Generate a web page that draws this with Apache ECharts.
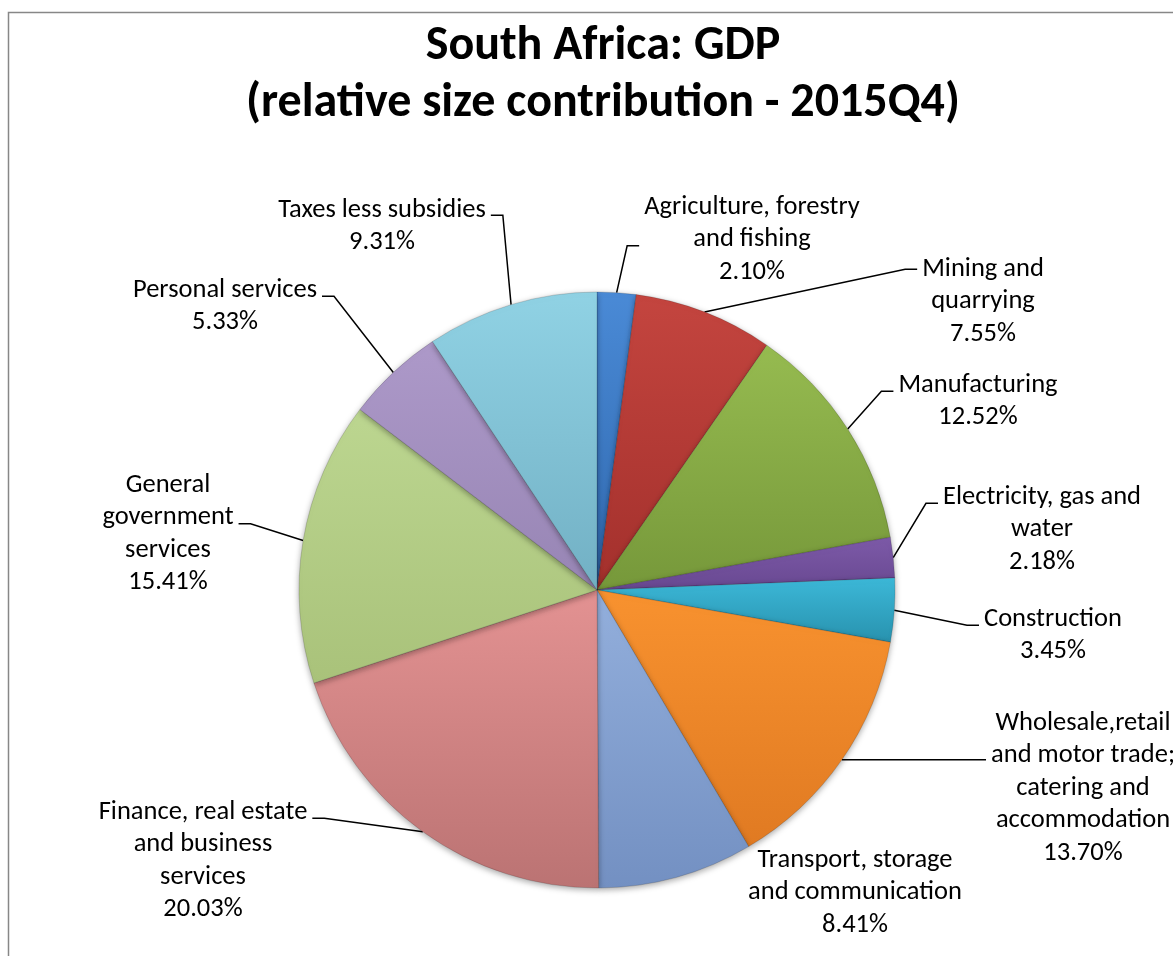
<!DOCTYPE html>
<html><head><meta charset="utf-8">
<script src="https://cdn.jsdelivr.net/npm/echarts@6/dist/echarts.min.js"></script>
<style>html,body{margin:0;padding:0;background:#fff}#c{width:1173px;height:956px}</style>
</head><body><div id="c"></div>
<script>
const titleText = 'South Africa: GDP\n(relative size contribution - 2015Q4)';
const categories = [
  'Agriculture, forestry\nand fishing',
  'Mining and\nquarrying',
  'Manufacturing',
  'Electricity, gas and\nwater',
  'Construction',
  'Wholesale,retail\nand motor trade;\ncatering and\naccommodation',
  'Transport, storage\nand communication',
  'Finance, real estate\nand business\nservices',
  'General\ngovernment\nservices',
  'Personal services',
  'Taxes less subsidies'
];
const shares = [2.10, 7.55, 12.52, 2.18, 3.45, 13.70, 8.41, 20.03, 15.41, 5.33, 9.31];

// styles
const colorTop = ['#4a8ad6','#c4453f','#96bb50','#7d5aa8','#3cb8d8','#f8922f','#93afdc','#e39292','#bcd690','#ad99c9','#90d2e4'];
const colorBot = ['#2f68ae','#a3302c','#76983a','#684891','#2892ae','#e07a22','#7390c2','#bb7373','#a9c27a','#9785b4','#72b0c4'];
// label placement: [centerX, topY, attach side, attached line index, attach y offset]
const labelPlace = [
  [752, 191, 'left', 1, 6],
  [983, 253, 'left', 0, 0],
  [978, 369, 'left', 0, 6],
  [1042, 481, 'left', 0, 6],
  [1053, 603, 'left', 0, 6],
  [1083, 707, 'left', 1, 4],
  [855, 844, null, 0, 0],
  [203, 796, 'right', 0, 6],
  [168, 469, 'right', 1, 6],
  [225, 274, 'right', 0, 6],
  [382, 194, 'right', 0, 5]
];
const LH = 32.5;
const FONT = 'Carlito, Lato, "Open Sans", sans-serif';

const chart = echarts.init(document.getElementById('c'), null, {renderer: 'canvas'});
const data = categories.map((n, i) => ({
  name: n,
  value: shares[i],
  itemStyle: {
    color: new echarts.graphic.LinearGradient(0, 0, 0, 1, [
      {offset: 0, color: colorTop[i]}, {offset: 1, color: colorBot[i]}
    ])
  },
  labelLine: {show: labelPlace[i][2] !== null}
}));

chart.setOption({
  backgroundColor: '#fff',
  animation: false,
  graphic: [{
    type: 'rect', shape: {x: 8.5, y: 12.5, width: 1300, height: 1100},
    style: {fill: 'none', stroke: '#878787', lineWidth: 1.5}, z: -10, silent: true
  }],
  title: {
    text: titleText, left: 598, top: 13, textAlign: 'center',
    textStyle: {fontFamily: FONT, fontSize: 48, fontWeight: 'bold', lineHeight: 57, color: '#000'}
  },
  series: [{
    type: 'pie',
    center: [597, 590],
    radius: 298,
    startAngle: 90,
    clockwise: true,
    avoidLabelOverlap: false,
    data: data,
    itemStyle: {borderColor: 'rgba(0,0,0,0.25)', borderWidth: 0.6, shadowBlur: 6, shadowColor: 'rgba(0,0,0,0.35)', shadowOffsetY: 2},
    label: {
      show: true, position: 'outside', fontFamily: FONT, fontSize: 26.5, lineHeight: LH, color: '#000', align: 'center',
      formatter: p => p.name + '\n' + p.value.toFixed(2) + '%'
    },
    labelLine: {show: true, length: 10, length2: 10, lineStyle: {color: '#000', width: 1.5}},
    labelLayout: function (p) {
      const pl = labelPlace[p.dataIndex];
      const w = p.labelRect.width;
      const out = {x: pl[0], y: pl[1], align: 'center', verticalAlign: 'top'};
      if (pl[2] && p.labelLinePoints) {
        const ay = pl[1] + (pl[3] + 0.5) * LH + pl[4];
        const ex = pl[2] === 'left' ? pl[0] - w / 2 - 5 : pl[0] + w / 2 + 5;
        const bx = pl[2] === 'left' ? ex - 12 : ex + 12;
        out.labelLinePoints = [p.labelLinePoints[0], [bx, ay], [ex, ay]];
      }
      return out;
    }
  }]
});
</script></body></html>
